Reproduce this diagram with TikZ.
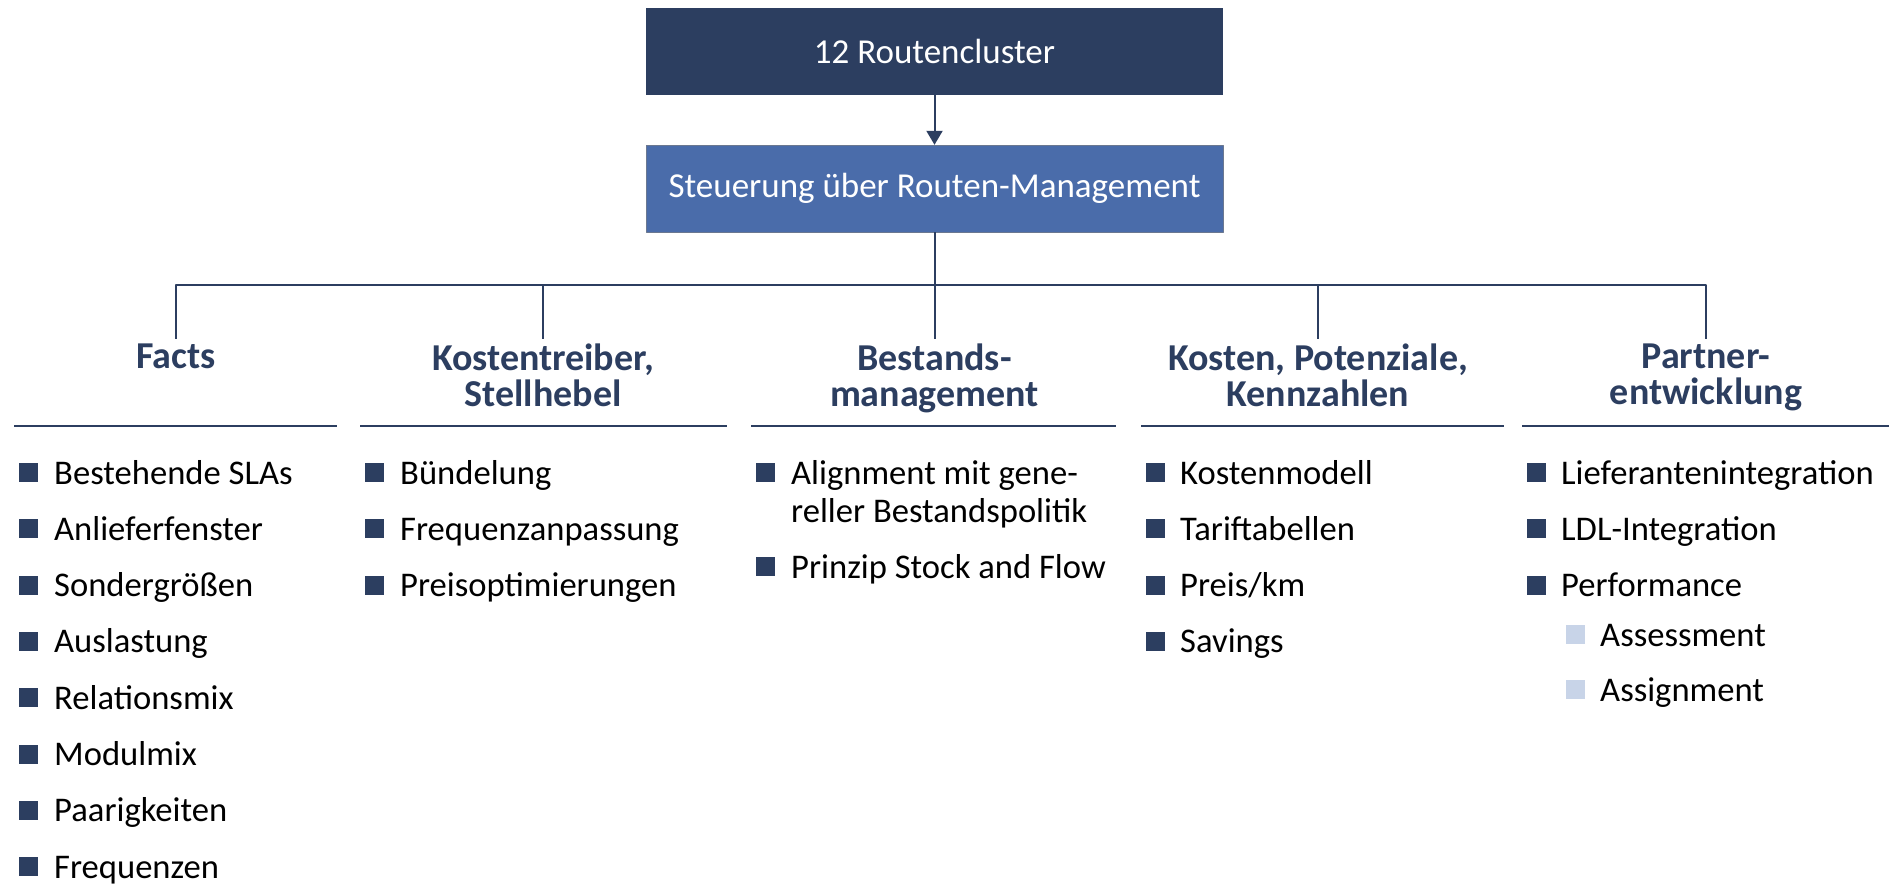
\documentclass[tikz,border=0pt]{standalone}
\usepackage{fontspec}
\setmainfont{Carlito}
\usetikzlibrary{arrows.meta}
\definecolor{navy}{RGB}{44,62,96}
\definecolor{midblue}{RGB}{74,108,170}
\definecolor{paleblue}{RGB}{200,212,232}
\begin{document}
\begin{tikzpicture}[x=1pt, y=-1pt, line join=round,
    >={Triangle[width=16pt,length=14pt]},
    kasten/.style={minimum width=577pt, minimum height=87pt, inner sep=0pt, text=white, font=\fontsize{35}{40}\selectfont},
    kopf/.style={anchor=north, align=center, inner xsep=0pt, inner ysep=5pt, text=navy, font=\bfseries\fontsize{38}{36}\selectfont},
    punkt/.style={anchor=base west, inner sep=0pt, font=\fontsize{34.6}{38}\selectfont},
    kaestchen/.style={fill=navy, minimum size=19pt, inner sep=0pt},
    hell/.style={kaestchen, fill=paleblue},
    linie/.style={navy, line width=2pt}]
    \def\yo{484} \def\dy{56.3} % erste Grundlinie, Zeilenabstand
    \useasboundingbox (0,0) rectangle (1893,884);
    % Kopf
    \node[kasten, fill=navy] (cluster) at (934.5,51.5) {12 Routencluster};
    \node[kasten, fill=midblue, draw=navy!70] (steuerung) at (934.5,188.5) {Steuerung über Routen-Management};
    \draw[linie, ->] (cluster) -- (steuerung);
    \coordinate (hub) at (934.5,285);
    \draw[linie] (steuerung) -- (hub);
    % Spalten
    \node[kopf] (facts) at (176,339) {Facts};
    \node[kopf] (treiber) at (543,339) {Kostentreiber,\\Stellhebel};
    \node[kopf] (bestand) at (934.5,339) {Bestands-\\management};
    \node[kopf] (kennzahl) at (1318,339) {Kosten, Potenziale,\\Kennzahlen};
    \node[kopf] (partner) at (1706,339) {Partner-\\entwicklung};
    \foreach \n in {facts,treiber,bestand,kennzahl,partner}
    \draw[linie] (hub) -| (\n.north);
    \draw[linie] (14,426)--(337,426);
    \draw[linie] (360,426)--(727,426);
    \draw[linie] (751,426)--(1116,426);
    \draw[linie] (1141,426)--(1504,426);
    \draw[linie] (1522,426)--(1889,426);
    % Punkte
    \foreach \t [count=\i from 0] in {Bestehende SLAs,Anlieferfenster,Sondergrößen,Auslastung,Relationsmix,Modulmix,Paarigkeiten,Frequenzen}{
        \node[kaestchen] (fq\i) at (28.5,{\yo+\dy*\i-11.5}) {};
        \node[punkt] (ft\i) at (54,{\yo+\dy*\i}) {\t};
    }
    \foreach \t [count=\i from 0] in {Bündelung,Frequenzanpassung,Preisoptimierungen}{
        \node[kaestchen] (kq\i) at (374.5,{\yo+\dy*\i-11.5}) {};
        \node[punkt] (kt\i) at (400,{\yo+\dy*\i}) {\t};
    }
    \node[kaestchen] (bq0) at (765.5,\yo-11.5) {};
    \node[punkt, align=left] (bt0) at (791,\yo+38) {Alignment mit gene-\\reller Bestandspolitik};
    \node[kaestchen] (bq1) at (765.5,578-11.5) {};
    \node[punkt] (bt1) at (791,578) {Prinzip Stock and Flow};
    \foreach \t [count=\i from 0] in {Kostenmodell,Tariftabellen,Preis/km,Savings}{
        \node[kaestchen] (zq\i) at (1155.5,{\yo+\dy*\i-11.5}) {};
        \node[punkt] (zt\i) at (1180,{\yo+\dy*\i}) {\t};
    }
    \foreach \t [count=\i from 0] in {Lieferantenintegration,LDL-Integration,Performance}{
        \node[kaestchen] (pq\i) at (1536.5,{\yo+\dy*\i-11.5}) {};
        \node[punkt] (pt\i) at (1561,{\yo+\dy*\i}) {\t};
    }
    \node[hell] (aq0) at (1575,646-11.5) {};
    \node[punkt] (at0) at (1600,646) {Assessment};
    \node[hell] (aq1) at (1575,701-11.5) {};
    \node[punkt] (at1) at (1600,701) {Assignment};
\end{tikzpicture}
\end{document}
